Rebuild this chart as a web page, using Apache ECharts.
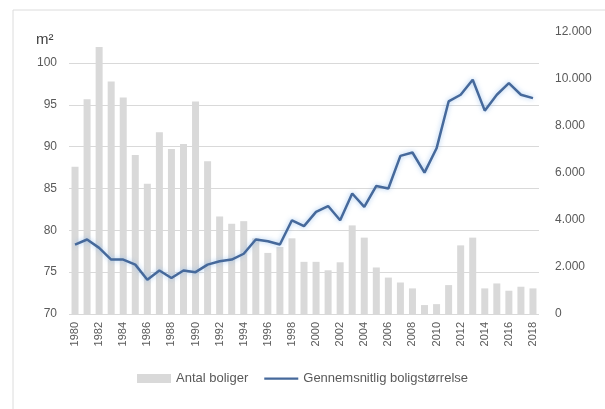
<!DOCTYPE html>
<html>
<head>
<meta charset="utf-8">
<script src="https://cdn.jsdelivr.net/npm/echarts@6/dist/echarts.min.js"></script>
<style>
  html, body { margin: 0; padding: 0; background: #fff; }
  #chart { width: 605px; height: 409px; }
</style>
</head>
<body>
<div id="chart"></div>
<script>
const years = ['1980', '1981', '1982', '1983', '1984', '1985', '1986', '1987', '1988', '1989',
  '1990', '1991', '1992', '1993', '1994', '1995', '1996', '1997', '1998', '1999',
  '2000', '2001', '2002', '2003', '2004', '2005', '2006', '2007', '2008', '2009',
  '2010', '2011', '2012', '2013', '2014', '2015', '2016', '2017', '2018']

// Antal boliger (right axis)
const antalBoliger = [6270, 9140, 11360, 9890, 9210, 6770, 5540, 7730, 7020, 7230,
  9040, 6500, 4150, 3840, 3950, 3220, 2600, 2850, 3220, 2220,
  2220, 1860, 2200, 3770, 3250, 1980, 1550, 1340, 1090, 380,
  420, 1230, 2920, 3250, 1090, 1300, 990, 1160, 1090]

// Gennemsnitlig boligstørrelse, m2 (left axis)
const boligStorrelse = [78.3, 78.9, 77.9, 76.5, 76.5, 75.9, 74.1, 75.2, 74.3, 75.2,
  75.0, 75.9, 76.3, 76.5, 77.2, 78.9, 78.7, 78.3, 81.2, 80.5,
  82.2, 82.9, 81.2, 84.4, 82.8, 85.3, 85.0, 88.9, 89.3, 86.9,
  89.8, 95.4, 96.2, 98.0, 94.3, 96.2, 97.6, 96.2, 95.8]

const leftMin = 70
const leftMax = 103.7
const rightMax = 12000

const labelColor = '#595959'
const gridColor = '#d9d9d9'
const lineColor = '#46699b'

const chart = echarts.init(document.getElementById('chart'))

function thousands(v) {
  return String(v).replace(/\B(?=(\d{3})+(?!\d))/g, '.')
}

chart.setOption({
  animation: false,
  textStyle: { fontFamily: 'Liberation Sans, Arial, sans-serif' },
  graphic: [
    {
      type: 'rect',
      shape: { x: 13, y: 10, width: 700, height: 500 },
      style: { fill: 'none', stroke: '#dcdcdc', lineWidth: 1 },
      silent: true
    },
    {
      type: 'text',
      left: 36,
      top: 32,
      style: { text: 'm²', fill: '#404040', fontSize: 15, fontFamily: 'Liberation Sans, Arial, sans-serif' }
    }
  ],
  grid: {
    left: 69,
    right: 66,
    top: 32,
    bottom: 95
  },
  legend: {
    bottom: 19,
    left: 'center',
    itemWidth: 34,
    itemHeight: 9,
    itemGap: 16,
    textStyle: { color: labelColor, fontSize: 13 },
    data: [
      { name: 'Antal boliger', icon: 'rect' },
      {
        name: 'Gennemsnitlig boligstørrelse',
        // thin line in a full-height box (zero-area subpaths only set the bounds)
        icon: 'path://M0,0L34,0Z M0,3.5L34,3.5L34,5.8L0,5.8Z M0,9L34,9Z',
        itemStyle: { color: lineColor, borderWidth: 0 }
      }
    ]
  },
  xAxis: {
    type: 'category',
    data: years,
    axisLine: { show: false },
    axisTick: { show: false },
    axisLabel: {
      interval: 1,
      rotate: 90,
      color: labelColor,
      fontSize: 11,
      margin: 8
    }
  },
  yAxis: [
    {
      type: 'value',
      min: leftMin,
      max: leftMax,
      interval: 5,
      axisLine: { show: false },
      axisTick: { show: false },
      splitLine: { showMaxLine: false, lineStyle: { color: gridColor, width: 1 } },
      axisLabel: {
        color: labelColor,
        fontSize: 12,
        margin: 12,
        showMaxLabel: false
      }
    },
    {
      type: 'value',
      min: 0,
      max: rightMax,
      interval: 2000,
      axisLine: { show: false },
      axisTick: { show: false },
      splitLine: { show: false },
      axisLabel: {
        color: labelColor,
        fontSize: 12,
        margin: 16,
        formatter: thousands
      }
    }
  ],
  series: [
    {
      name: 'Antal boliger',
      type: 'bar',
      yAxisIndex: 1,
      barWidth: '58%',
      itemStyle: { color: '#d9d9d9' },
      data: antalBoliger
    },
    {
      name: 'Gennemsnitlig boligstørrelse',
      type: 'line',
      yAxisIndex: 0,
      symbol: 'none',
      z: 5,
      itemStyle: { color: lineColor },
      lineStyle: {
        color: lineColor,
        width: 2.5,
        shadowColor: 'rgba(140, 185, 235, 0.8)',
        shadowBlur: 5
      },
      data: boligStorrelse
    }
  ]
})
</script>
</body>
</html>
